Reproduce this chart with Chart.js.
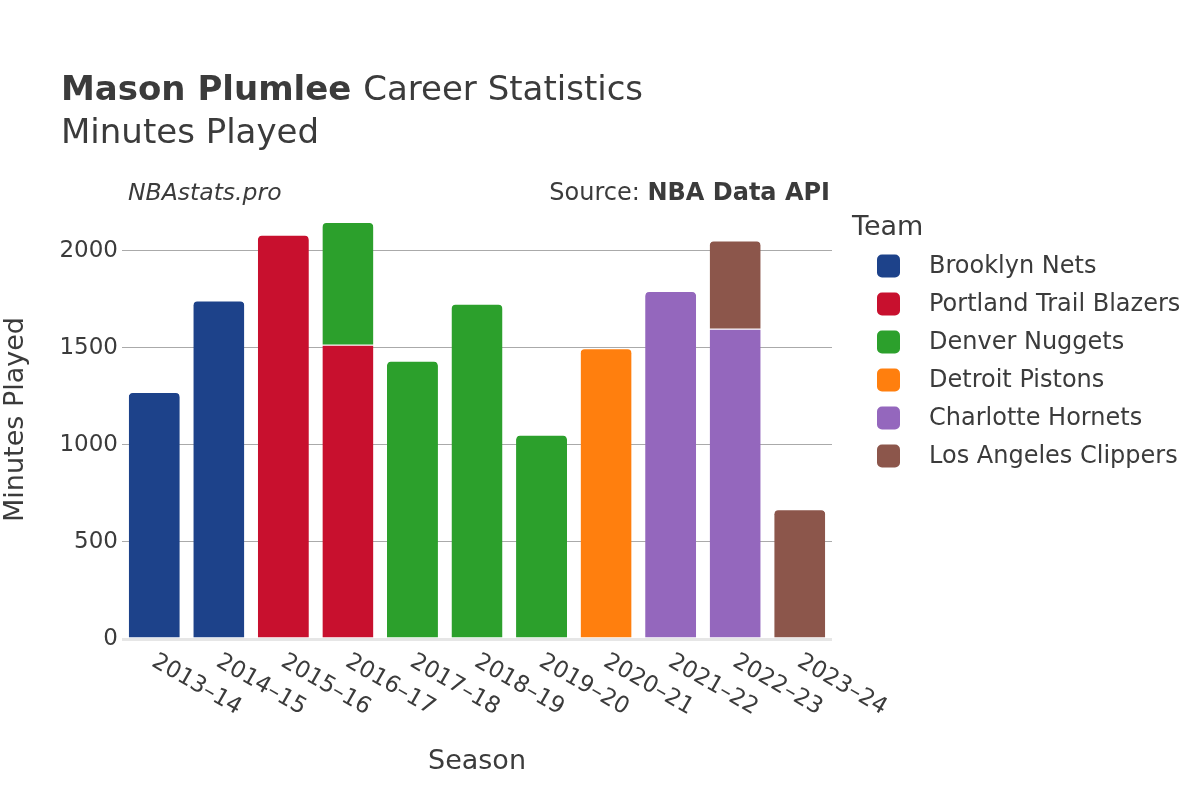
<!DOCTYPE html>
<html>
<head>
<meta charset="utf-8">
<script src="https://cdn.jsdelivr.net/npm/chart.js@4.4.1/dist/chart.umd.min.js"></script>
<style>
  html, body { margin: 0; padding: 0; background: #fff; }
  #wrap { width: 1200px; height: 800px; }
</style>
</head>
<body>
<div id="wrap"><canvas id="chart" width="1200" height="800"></canvas></div>
<script>
// data
const seasons = ['2013–14', '2014–15', '2015–16', '2016–17', '2017–18', '2018–19',
  '2019–20', '2020–21', '2021–22', '2022–23', '2023–24'];
const teams = ['Brooklyn Nets', 'Portland Trail Blazers', 'Denver Nuggets',
  'Detroit Pistons', 'Charlotte Hornets', 'Los Angeles Clippers'];
const teamColors = ['#1d428a', '#c8102e', '#2ca02c', '#ff7f0e', '#9467bd', '#8c564b'];

const brooklynNets = [1272, 1744, null, null, null, null, null, null, null, null, null];
const portlandTrailBlazers = [null, null, 2082, 1515, null, null, null, null, null, null, null];
const denverNuggets = [null, null, null, 633, 1433, 1727, 1052, null, null, null, null];
const detroitPistons = [null, null, null, null, null, null, null, 1498, null, null, null];
const charlotteHornets = [null, null, null, null, null, null, null, null, 1792, 1598, null];
const losAngelesClippers = [null, null, null, null, null, null, null, null, null, 454, 668];

const yTicks = [0, 500, 1000, 1500, 2000];
const yMax = 2261;

const seriesList = [brooklynNets, portlandTrailBlazers, denverNuggets,
  detroitPistons, charlotteHornets, losAngelesClippers];

const FONT = "'DejaVu Sans', sans-serif";
const TEXT = '#3b3b3b';

// round only the top segment of each stack
function topRadius(ctx) {
  const i = ctx.dataIndex;
  const d = ctx.datasetIndex;
  for (let k = d + 1; k < seriesList.length; k++) {
    if (seriesList[k][i] != null) return 0;
  }
  return { topLeft: 5, topRight: 5, bottomLeft: 0, bottomRight: 0 };
}

const datasets = teams.map((name, k) => ({
  label: name,
  data: seriesList[k],
  backgroundColor: teamColors[k],
  borderColor: '#ffffff',
  borderWidth: { top: 1, left: 0, right: 0, bottom: 0 },
  borderSkipped: 'start',
  borderRadius: topRadius,
  barPercentage: 0.79,
  categoryPercentage: 1.0
}));

// titles, x tick labels and the legend are drawn here
const decorations = {
  id: 'decorations',
  afterDraw(chart) {
    const ctx = chart.ctx;
    ctx.save();
    ctx.fillStyle = TEXT;
    ctx.textBaseline = 'alphabetic';

    // main title
    ctx.textAlign = 'left';
    ctx.font = `bold 34px ${FONT}`;
    ctx.fillText('Mason Plumlee', 61, 100);
    const w = ctx.measureText('Mason Plumlee ').width;
    ctx.font = `34px ${FONT}`;
    ctx.fillText('Career Statistics', 61 + w, 100);
    ctx.fillText('Minutes Played', 61, 143);

    // watermark and source
    ctx.font = `italic 23.5px ${FONT}`;
    ctx.fillText('NBAstats.pro', 128, 200);
    ctx.textAlign = 'right';
    ctx.font = `bold 24px ${FONT}`;
    const apiW = ctx.measureText('NBA Data API').width;
    ctx.fillText('NBA Data API', 830, 200);
    ctx.font = `24px ${FONT}`;
    ctx.fillText('Source: ', 830 - apiW, 200);

    // rotated season labels
    const xs = chart.scales.x;
    ctx.font = `23px ${FONT}`;
    ctx.textAlign = 'left';
    ctx.textBaseline = 'top';
    seasons.forEach((s, i) => {
      const x = xs.getPixelForValue(i);
      ctx.save();
      ctx.translate(x + 5, 650);
      ctx.rotate(Math.PI / 6);
      ctx.fillText(s, 0, 0);
      ctx.restore();
    });

    // legend
    ctx.textBaseline = 'middle';
    ctx.font = `27px ${FONT}`;
    ctx.fillText('Team', 852, 228);
    ctx.font = `24px ${FONT}`;
    chart.data.datasets.forEach((ds, k) => {
      const cy = 266 + k * 38;
      ctx.fillStyle = ds.backgroundColor;
      ctx.beginPath();
      ctx.roundRect(877, cy - 11.5, 23, 23, 5);
      ctx.fill();
      ctx.fillStyle = TEXT;
      ctx.fillText(ds.label, 929, cy + 1);
    });
    ctx.restore();
  }
};

new Chart(document.getElementById('chart'), {
  type: 'bar',
  data: { labels: seasons, datasets: datasets },
  plugins: [decorations],
  options: {
    responsive: false,
    animation: false,
    layout: { padding: { top: 200, right: 368, bottom: 22, left: 0 } },
    plugins: {
      legend: { display: false },
      tooltip: { enabled: false }
    },
    scales: {
      x: {
        stacked: true,
        grid: { display: false },
        border: { display: false },
        ticks: { display: false },
        title: {
          display: true,
          text: 'Season',
          color: TEXT,
          font: { family: FONT, size: 27 },
          padding: 0
        },
        afterFit(scale) { scale.height = 139; }
      },
      y: {
        stacked: true,
        min: 0,
        max: yMax,
        afterBuildTicks(scale) {
          scale.ticks = yTicks.map(v => ({ value: v }));
        },
        border: { display: false },
        grid: {
          drawTicks: false,
          color: ctx => (ctx.tick && ctx.tick.value === 0) ? '#e6e6e6' : '#aaaaaa',
          lineWidth: ctx => (ctx.tick && ctx.tick.value === 0) ? 3 : 1
        },
        ticks: {
          color: TEXT,
          font: { family: FONT, size: 23 },
          padding: 4,
          callback: v => String(v)
        },
        title: {
          display: true,
          text: 'Minutes Played',
          color: TEXT,
          font: { family: FONT, size: 27 },
          padding: 0
        },
        afterFit(scale) { scale.width = 122; }
      }
    }
  }
});
</script>
</body>
</html>
